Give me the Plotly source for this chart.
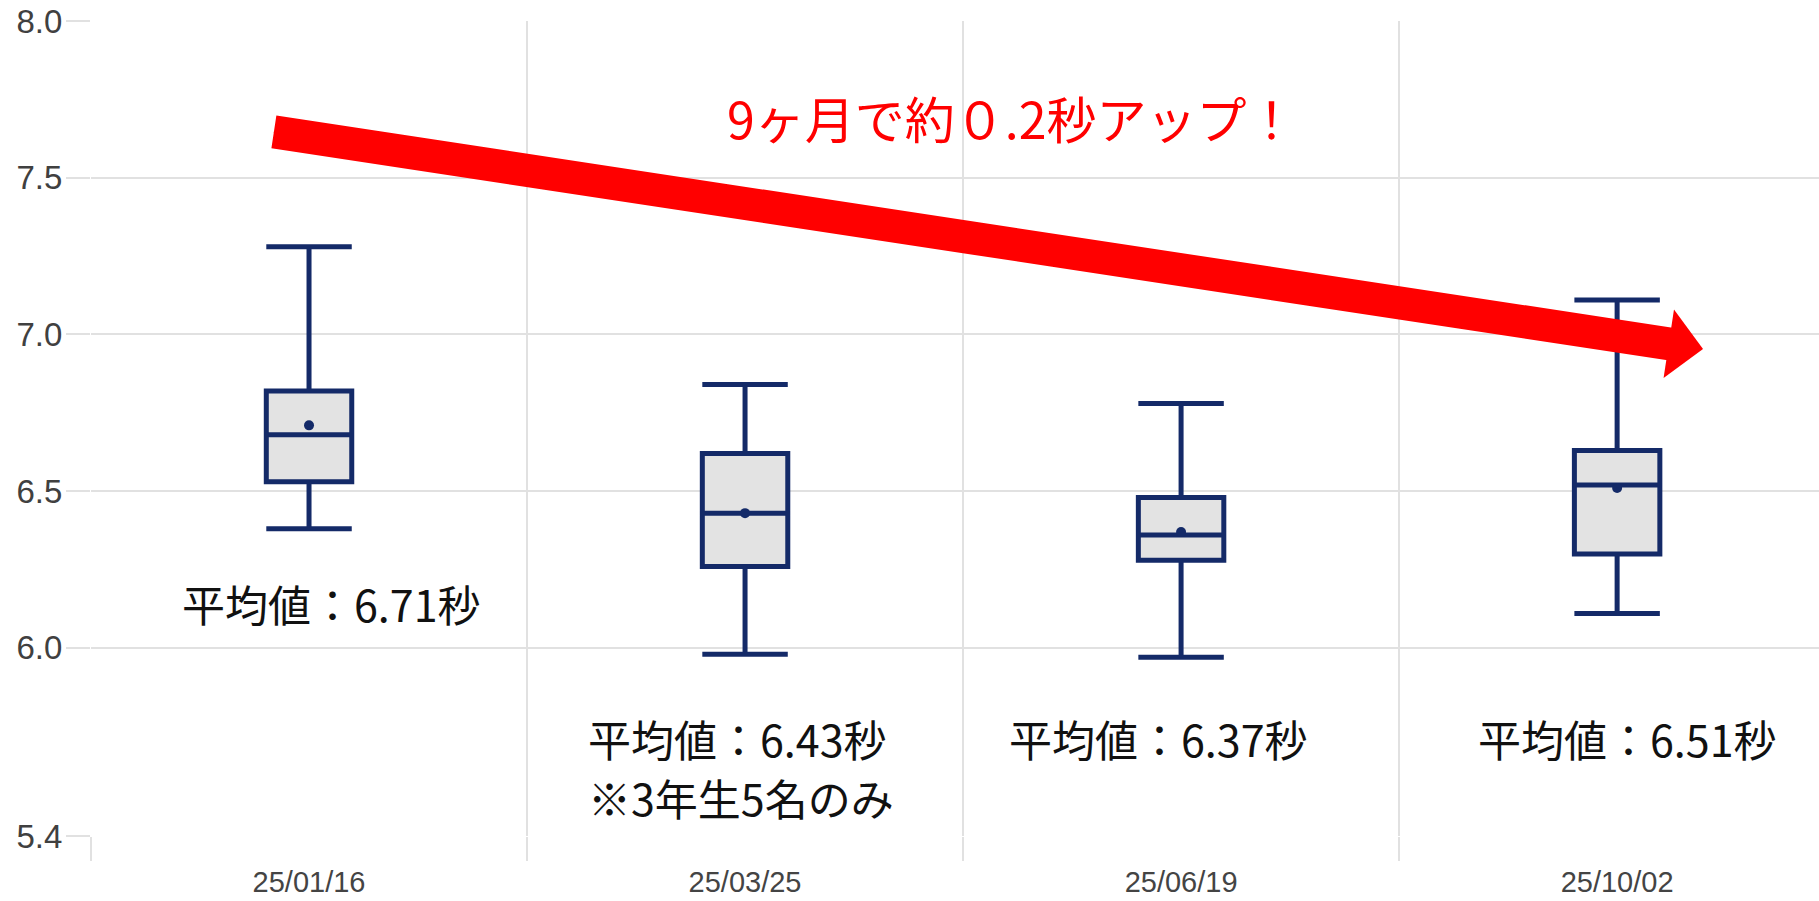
import plotly.graph_objects as go

# ---- data ----
dates = ["25/01/16", "25/03/25", "25/06/19", "25/10/02"]
lower_whisker = [6.38, 5.98, 5.97, 6.11]
q1_vals = [6.53, 6.26, 6.28, 6.30]
median_vals = [6.68, 6.43, 6.36, 6.52]
q3_vals = [6.82, 6.62, 6.48, 6.63]
upper_whisker = [7.28, 6.84, 6.78, 7.11]
mean_vals = [6.71, 6.43, 6.37, 6.51]
mean_labels = ["平均値：6.71秒", "平均値：6.43秒", "平均値：6.37秒", "平均値：6.51秒"]
note_text = "※3年生5名のみ"
headline = "9ヶ月で約０.2秒アップ！"
y_ticks = [5.4, 6.0, 6.5, 7.0, 7.5, 8.0]

NAVY = "#142a68"
GRID = "#e1e1e1"
RED = "#ff0000"
JP = "Noto Sans CJK JP, Noto Sans, sans-serif"
TICKFONT = "Liberation Sans, Arial, sans-serif"

fig = go.Figure()
fig.add_trace(go.Box(
    x=dates, q1=q1_vals, median=median_vals, q3=q3_vals,
    lowerfence=lower_whisker, upperfence=upper_whisker,
    boxpoints=False, width=0.196, whiskerwidth=1.0,
    fillcolor="#e3e3e3", line=dict(color=NAVY, width=5),
    hoverinfo="skip", showlegend=False,
))
fig.add_trace(go.Scatter(
    x=dates, y=mean_vals, mode="markers",
    marker=dict(color=NAVY, size=10), hoverinfo="skip", showlegend=False,
))

# mean labels
label_pos = [(-0.295, 6.144), (0.636, 5.714), (1.601, 5.714), (2.676, 5.714)]
for (lx, ly), txt in zip(label_pos, mean_labels):
    fig.add_annotation(x=lx, y=ly, xref="x", yref="y", text=txt, showarrow=False,
                       xanchor="left", yanchor="middle",
                       font=dict(family=JP, size=43, color="#111111"))
fig.add_annotation(x=0.636, y=5.523, xref="x", yref="y", text=note_text, showarrow=False,
                   xanchor="left", yanchor="middle",
                   font=dict(family=JP, size=43, color="#111111"))

# headline
fig.add_annotation(x=1.612, y=7.694, xref="x", yref="y", text=headline, showarrow=False,
                   xanchor="center", yanchor="middle",
                   font=dict(family=JP, size=50, color=RED))

# big red arrow: thick shaft + separate head
tail = (-0.084, 7.647)
shaft_end = (3.129, 6.968)
tip = (3.197, 6.954)
fig.add_annotation(x=shaft_end[0], y=shaft_end[1], ax=tail[0], ay=tail[1],
                   xref="x", yref="y", axref="x", ayref="y",
                   text="", showarrow=True, arrowhead=0,
                   arrowwidth=33, arrowcolor=RED)
fig.add_annotation(x=tip[0], y=tip[1], ax=tail[0], ay=tail[1],
                   xref="x", yref="y", axref="x", ayref="y",
                   text="", showarrow=True, arrowhead=1, arrowsize=5.77,
                   arrowwidth=2, arrowcolor=RED)

fig.update_layout(
    width=1819, height=901, autosize=False,
    margin=dict(l=91, r=0, t=21, b=65, pad=0),
    paper_bgcolor="white", plot_bgcolor="white",
    font=dict(family=JP),
    xaxis=dict(
        type="category", range=[-0.5, 3.463], tickson="boundaries",
        showgrid=True, gridcolor=GRID, gridwidth=2,
        ticks="outside", ticklen=24, tickwidth=2, tickcolor=GRID,
        showline=False, zeroline=False, automargin=False,
        ticklabelstandoff=26,
        tickfont=dict(family=TICKFONT, size=29, color="#444444"),
    ),
    yaxis=dict(
        range=[5.4, 8.0], tickvals=y_ticks, ticktext=[f"{v:.1f}" for v in y_ticks],
        showgrid=True, gridcolor=GRID, gridwidth=2,
        ticks="outside", ticklen=24, tickwidth=2, tickcolor=GRID,
        showline=False, zeroline=False, automargin=False,
        ticklabeloverflow="allow", ticklabelstandoff=-3,
        tickfont=dict(family=TICKFONT, size=33, color="#404040"),
    ),
)

fig.write_html(
    "out.html",
    config={"displayModeBar": False},
    post_script="document.body.style.margin='0';document.body.style.overflow='hidden';",
)
